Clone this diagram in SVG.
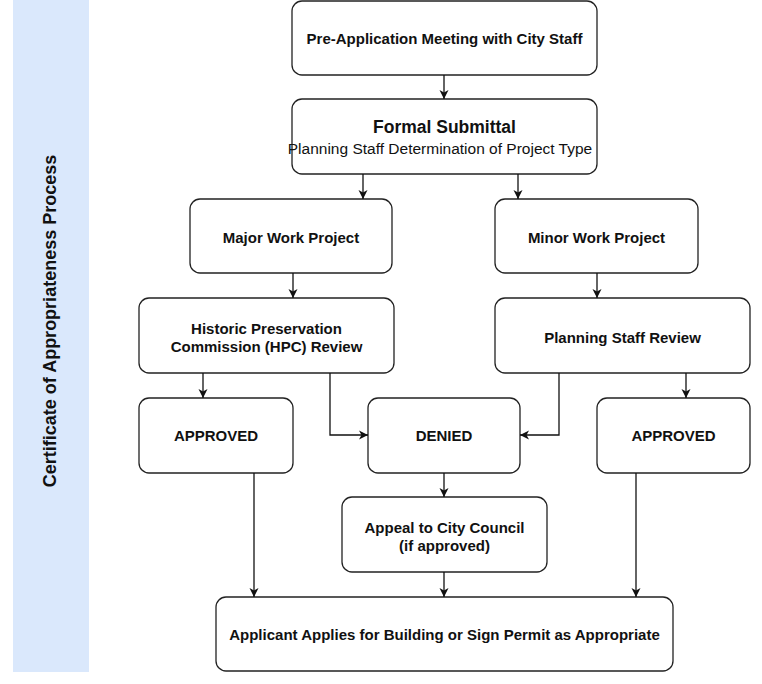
<svg xmlns="http://www.w3.org/2000/svg" width="762" height="684" viewBox="0 0 762 684">
<defs>
<marker id="arr" markerWidth="12" markerHeight="12" refX="10" refY="6" orient="auto" markerUnits="userSpaceOnUse">
<path d="M1,1.5 L10,6 L1,10.5 L3.5,6 Z" fill="#111"/>
</marker>
<style>
.box{fill:#fff;stroke:#222;stroke-width:1.3}
.t{font-family:"Liberation Sans",Arial,sans-serif;font-size:15px;font-weight:bold;fill:#111;text-anchor:middle}
.n{font-family:"Liberation Sans",Arial,sans-serif;font-size:15.5px;fill:#111;text-anchor:middle}
.c{fill:none;stroke:#111;stroke-width:1.3;marker-end:url(#arr)}
</style>
</defs>
<rect width="762" height="684" fill="#fff"/>
<g id="sidebar">
<rect x="13" y="0" width="76" height="672" fill="#dae8fc"/>
<text class="t" style="font-size:18px" transform="translate(56,321) rotate(-90)">Certificate of Appropriateness Process</text>
</g>
<g id="preapp"><rect class="box" x="292" y="1" width="305" height="74" rx="10"/><text class="t" x="444.5" y="43.5">Pre-Application Meeting with City Staff</text></g>
<g id="formal"><rect class="box" x="292" y="99" width="305" height="75" rx="10"/><text class="t" style="font-size:17.5px" x="444.5" y="133">Formal Submittal</text><text class="n" x="440" y="153.5">Planning Staff Determination of Project Type</text></g>
<g id="major"><rect class="box" x="190" y="199" width="202" height="74" rx="10"/><text class="t" x="291" y="242.5">Major Work Project</text></g>
<g id="minor"><rect class="box" x="495" y="199" width="203" height="74" rx="10"/><text class="t" x="596.5" y="242.5">Minor Work Project</text></g>
<g id="hpc"><rect class="box" x="139" y="298" width="255" height="75" rx="10"/><text class="t" x="266.5" y="333.5">Historic Preservation</text><text class="t" x="266.5" y="351.5">Commission (HPC) Review</text></g>
<g id="psr"><rect class="box" x="495" y="298" width="255" height="75" rx="10"/><text class="t" x="622.5" y="342.5">Planning Staff Review</text></g>
<g id="approved1"><rect class="box" x="139" y="398" width="154" height="75" rx="10"/><text class="t" x="216" y="440.5">APPROVED</text></g>
<g id="denied"><rect class="box" x="368" y="398" width="152" height="75" rx="10"/><text class="t" x="444" y="440.5">DENIED</text></g>
<g id="approved2"><rect class="box" x="597" y="398" width="153" height="75" rx="10"/><text class="t" x="673.5" y="440.5">APPROVED</text></g>
<g id="appeal"><rect class="box" x="342" y="497" width="205" height="75" rx="10"/><text class="t" x="444.5" y="532.5">Appeal to City Council</text><text class="t" x="444.5" y="550.5">(if approved)</text></g>
<g id="permit"><rect class="box" x="216" y="597" width="457" height="74" rx="10"/><text class="t" x="444.5" y="639.5">Applicant Applies for Building or Sign Permit as Appropriate</text></g>
<g id="connectors">
<path class="c" d="M444,75 V99"/>
<path class="c" d="M363,174 V199"/>
<path class="c" d="M518,174 V199"/>
<path class="c" d="M293,273 V298"/>
<path class="c" d="M597,273 V298"/>
<path class="c" d="M203,373 V398"/>
<path class="c" d="M330,373 V435 H368"/>
<path class="c" d="M559,373 V435 H520"/>
<path class="c" d="M686,373 V398"/>
<path class="c" d="M444,473 V497"/>
<path class="c" d="M254,473 V597"/>
<path class="c" d="M444,572 V597"/>
<path class="c" d="M636,473 V597"/>
</g>
</svg>
